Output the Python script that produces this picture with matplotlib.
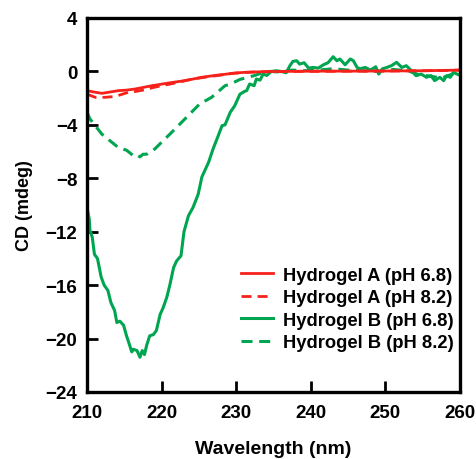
#!/usr/bin/env python3
"""CD spectra of hydrogels A/B at two pH values."""
import matplotlib
matplotlib.use("Agg")
import matplotlib.pyplot as plt
import numpy as np

# Hydrogel A, pH 6.8 (solid red)
wl_a68 = [210.0, 211.0, 212.0, 213.0, 214.2, 215.3, 216.4, 217.5, 218.7, 219.8,
          220.9, 222.0, 223.1, 224.3, 225.4, 226.5, 227.6, 228.7, 229.8, 231.1,
          233.0, 236.0, 240.0, 245.0, 250.0, 255.0, 258.0, 260.0]
cd_a68 = [-1.44, -1.55, -1.64, -1.55, -1.44, -1.40, -1.32, -1.20, -1.07, -0.97,
          -0.87, -0.78, -0.69, -0.56, -0.44, -0.35, -0.27, -0.20, -0.12, -0.07,
          -0.03, 0.00, 0.02, 0.02, 0.03, 0.05, 0.08, 0.10]

# Hydrogel A, pH 8.2 (dashed red)
wl_a82 = [210.0, 211.1, 212.4, 213.8, 215.5, 216.5, 217.8, 218.9, 220.0, 221.1,
          222.2, 223.5, 225.0, 226.5, 228.0, 229.5, 231.0, 233.0, 236.0, 240.0,
          245.0, 250.0, 255.0, 258.0, 260.0]
cd_a82 = [-1.70, -1.94, -1.94, -1.87, -1.57, -1.50, -1.37, -1.20, -1.07, -0.95,
          -0.82, -0.65, -0.50, -0.38, -0.27, -0.15, -0.08, -0.03, 0.00, 0.00,
          0.02, 0.03, 0.05, 0.07, 0.10]

# Hydrogel B, pH 6.8 (solid green)
wl_b68 = [210.0, 210.3, 210.4, 210.7, 211.0, 211.4, 211.9, 212.3, 212.8, 213.2,
          213.7, 214.0, 214.4, 214.9, 215.3, 215.6, 216.0, 216.2, 216.7, 217.1,
          217.4, 217.7, 218.0, 218.4, 218.9, 219.3, 219.8, 220.2, 220.7, 221.1,
          221.6, 222.0, 222.6, 223.0, 223.6, 224.2, 224.9, 225.4, 226.3, 226.9,
          227.6, 228.1, 228.5, 229.2, 229.8, 230.5, 230.7, 231.1, 231.4, 231.8,
          232.4, 232.7, 233.2, 233.6, 234.1, 234.7, 235.4, 236.0, 236.7, 237.2,
          237.6, 238.1, 238.5, 239.1, 239.7, 240.3, 241.0, 241.7, 242.3, 243.0,
          243.5, 243.9, 244.6, 245.3, 245.7, 246.2, 246.6, 247.3, 248.0, 248.7,
          249.1, 249.6, 250.2, 250.8, 251.5, 252.2, 252.8, 253.5, 254.1, 254.8,
          255.5, 256.1, 256.6, 257.3, 257.8, 258.2, 258.7, 259.1, 259.8, 260.0]
cd_b68 = [-10.2, -11.05, -11.9, -12.4, -13.7, -14.0, -15.4, -16.0, -16.4, -17.3,
          -17.9, -18.8, -18.7, -19.0, -19.8, -20.3, -21.0, -20.8, -20.9, -21.4,
          -20.9, -21.2, -20.5, -19.8, -19.7, -19.4, -18.2, -17.7, -16.9, -16.0,
          -14.7, -14.2, -13.8, -12.0, -10.8, -10.2, -9.2, -7.9, -6.8, -5.8,
          -4.8, -4.06, -4.0, -3.06, -2.57, -1.7, -1.64, -1.5, -1.44, -0.94,
          -1.07, -0.57, -0.65, -0.2, -0.3, 0.0, 0.05, 0.0, -0.1, 0.43,
          0.75, 0.8, 0.55, 0.65, 0.25, 0.3, 0.25, 0.5, 0.65, 1.1,
          0.8, 0.93, 0.5, 0.93, 0.8, 0.3, 0.2, 0.3, 0.1, 0.35,
          -0.2, 0.2, 0.3, 0.43, 0.68, 0.3, 0.43, 0.05, -0.32, -0.2,
          -0.44, -0.32, -0.69, -0.44, -0.69, -0.32, -0.44, -0.07, -0.25, -0.2]

# Hydrogel B, pH 8.2 (dashed green)
wl_b82 = [210.0, 210.4, 211.1, 212.0, 213.1, 214.2, 215.3, 216.2, 216.6, 217.1,
          217.5, 218.0, 219.1, 220.0, 221.1, 222.7, 224.0, 225.1, 226.7, 228.5,
          229.2, 230.5, 231.5, 232.5, 233.5, 234.5, 236.0, 237.5, 239.0, 241.0,
          243.0, 245.0, 247.0, 249.0, 251.0, 253.0, 254.5, 256.0, 257.5, 259.0,
          260.0]
cd_b82 = [-3.06, -3.56, -4.06, -4.7, -5.2, -5.7, -5.9, -6.3, -6.2, -6.4,
          -6.2, -6.2, -5.8, -5.3, -4.7, -3.8, -3.06, -2.44, -1.94, -1.07,
          -0.95, -0.6, -0.45, -0.3, -0.1, 0.0, -0.05, 0.1, 0.05, 0.1,
          0.2, 0.1, 0.05, 0.0, 0.15, 0.05, -0.25, -0.35, -0.5, -0.2,
          -0.3]

labels = ["Hydrogel A (pH 6.8)", "Hydrogel A (pH 8.2)",
          "Hydrogel B (pH 6.8)", "Hydrogel B (pH 8.2)"]

RED = "#f7211c"
GREEN = "#00a550"

plt.rcParams["font.family"] = ["Liberation Sans", "DejaVu Sans"]
plt.rcParams["font.weight"] = "bold"

fig = plt.figure(figsize=(4.77, 4.6), dpi=100)
ax = fig.add_axes([0.1824, 0.1457, 0.782, 0.813])

lb82, = ax.plot(wl_b82, cd_b82, color=GREEN, lw=2.2, dashes=(3.6, 2.2))
lb68, = ax.plot(wl_b68, cd_b68, color=GREEN, lw=2.2)
la82, = ax.plot(wl_a82, cd_a82, color=RED, lw=2.0, dashes=(3.6, 2.2))
la68, = ax.plot(wl_a68, cd_a68, color=RED, lw=2.0)

ax.set_xlim(210, 260)
ax.set_ylim(-24, 4)
ax.set_xticks(np.arange(210, 261, 10))
ax.set_yticks(np.arange(-24, 5, 4))
ax.tick_params(direction="in", length=8, width=2, labelsize=13.5)
ax.tick_params(axis="x", pad=9)
ax.tick_params(axis="y", pad=7)
for s in ax.spines.values():
    s.set_linewidth(2.4)

ax.set_xlabel("Wavelength (nm)", fontsize=14, fontweight="bold", labelpad=13)
ax.set_ylabel("CD (mdeg)", fontsize=13, fontweight="bold", labelpad=9)

leg = ax.legend([la68, la82, lb68, lb82], labels, loc="upper left",
                bbox_to_anchor=(0.392, 0.355), frameon=False, fontsize=13.2,
                handlelength=1.75, handletextpad=0.55, labelspacing=0.3,
                borderaxespad=0)

fig.savefig("out.png", dpi=100)
plt.close(fig)
